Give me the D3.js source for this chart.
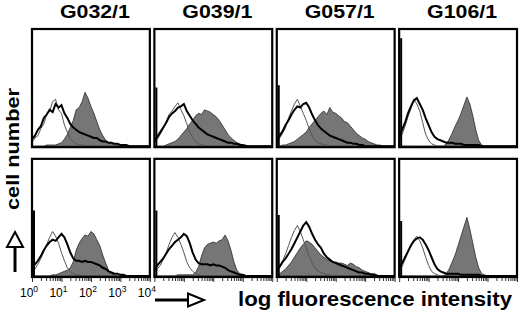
<!DOCTYPE html>
<html><head><meta charset="utf-8">
<script src="https://cdn.jsdelivr.net/npm/d3@7"></script>
<style>
body{margin:0;background:#fff}
svg{display:block}
text{font-family:"Liberation Sans",Arial,Helvetica,sans-serif;font-weight:bold;fill:#000}
</style>
</head><body>
<svg id="chart" width="520" height="312"></svg>
<script>
// ---- data ----
const antibodies = ["G032/1", "G039/1", "G057/1", "G106/1"];
const decades = [0, 1, 2, 3, 4];
const decadeLabels = ["0", "1", "2", "3", "4"];
// histogram bins: log10 fluorescence, 0.1 decade apart (41 channels)
const binLog = [0,0.1,0.2,0.3,0.4,0.5,0.6,0.7,0.8,0.9,1.0,1.1,1.2,1.3,1.4,1.5,1.6,1.7,1.8,1.9,2.0,
                2.1,2.2,2.3,2.4,2.5,2.6,2.7,2.8,2.9,3.0,3.1,3.2,3.3,3.4,3.5,3.6,3.7,3.8,3.9,4.0];
// values: % of panel height
const ctrlTop = [
  [3,7,9,15,19,27,30,38,40,31,28,18,12,6,4,2,1,1,1,0,1,0,0,0,0,0,0,0,0,0,0,0,0,0,0,0,0,0,0,0,0],
  [3,6,10,15,21,27,30,34,37,31,26,19,12,7,4,2,1,1,0,0,0,0,0,0,0,0,0,0,0,0,0,0,0,0,0,0,0,0,0,0,0],
  [3,7,11,16,24,30,36,40,34,28,22,15,9,5,3,2,1,1,0,0,0,0,0,0,0,0,0,0,0,0,0,0,0,0,0,0,0,0,0,0,0],
  [5,10,17,25,32,40,36,30,20,10,5,2,1,0,0,0,0,0,0,0,0,0,0,0,0,0,0,0,0,0,0,0,0,0,0,0,0,0,0,0,0]
];
const stainTop = [
  [6,9,14,17,24,27,31,29,36,33,35,28,24,19,16,14,12,11,10,9,8,7,7,5,4,4,3,3,2,2,1,1,1,0,0,0,0,0,0,0,0],
  [5,8,12,16,20,25,28,30,33,34,36,30,26,22,19,16,14,12,10,9,8,7,6,5,4,3,3,2,2,1,1,0,0,0,0,0,0,0,0,0,0],
  [5,9,13,18,22,27,31,34,33,36,37,33,27,22,18,15,13,11,9,8,7,6,5,4,3,3,2,2,1,1,0,0,0,0,0,0,0,0,0,0,0],
  [8,14,20,28,34,39,41,36,31,24,18,12,8,6,5,4,3,3,3,2,2,2,1,1,1,1,1,1,0,0,0,0,0,0,0,0,0,0,0,0,0]
];
const filledTop = [
  [0,0,0,0,0,1,1,1,1,2,3,6,10,16,22,31,33,38,46,41,34,28,21,14,9,5,3,2,1,1,0,0,0,0,0,0,0,0,0,0,0],
  [0,0,0,0,1,2,3,4,6,9,12,15,19,22,26,28,27,31,30,29,27,25,22,18,14,10,7,5,3,2,1,1,0,0,0,0,0,0,0,0,0],
  [0,0,1,1,2,3,4,6,8,10,12,16,19,22,25,28,30,27,33,29,28,26,24,21,20,17,14,11,9,7,6,4,3,2,1,1,0,0,0,0,0],
  [0,0,0,0,0,0,0,0,0,0,0,0,0,0,0,0,2,6,11,17,22,28,35,42,36,26,14,5,1,0,0,0,0,0,0,0,0,0,0,0,0]
];
const ctrlBottom = [
  [3,6,10,15,21,27,33,38,34,28,20,13,7,4,2,1,1,0,0,0,0,0,0,0,0,0,0,0,0,0,0,0,0,0,0,0,0,0,0,0,0],
  [3,6,9,14,20,27,33,37,33,27,20,12,7,4,2,1,0,0,0,0,0,0,0,0,0,0,0,0,0,0,0,0,0,0,0,0,0,0,0,0,0],
  [4,8,13,19,26,33,39,43,38,31,24,17,11,7,4,3,2,1,1,0,0,0,0,0,0,0,0,0,0,0,0,0,0,0,0,0,0,0,0,0,0],
  [4,8,14,20,26,31,34,30,24,16,9,4,2,1,0,0,0,0,0,0,0,0,0,0,0,0,0,0,0,0,0,0,0,0,0,0,0,0,0,0,0]
];
const stainBottom = [
  [6,10,13,17,22,26,29,31,30,33,36,33,27,20,15,13,13,12,13,12,12,11,10,9,7,6,4,3,2,2,1,1,0,0,0,0,0,0,0,0,0],
  [5,9,12,15,19,23,26,29,31,33,36,34,28,20,14,11,10,10,10,9,10,9,9,8,7,5,4,3,2,1,1,0,0,0,0,0,0,0,0,0,0],
  [5,8,12,15,19,23,28,33,38,43,46,42,36,31,27,24,19,16,14,12,11,10,9,8,7,6,5,4,3,3,2,2,1,1,0,0,0,0,0,0,0],
  [7,11,16,21,26,30,32,33,31,27,22,16,10,6,4,3,2,2,2,2,2,1,1,1,1,1,1,1,0,0,0,0,0,0,0,0,0,0,0,0,0]
];
const filledBottom = [
  [0,0,0,0,0,0,0,1,1,2,3,4,5,7,12,22,28,32,35,34,38,36,31,26,18,11,5,2,1,0,0,0,0,0,0,0,0,0,0,0,0],
  [0,0,0,0,0,0,0,0,1,1,1,1,1,1,3,8,17,24,27,28,29,28,30,31,35,30,22,12,5,2,1,0,0,0,0,0,0,0,0,0,0],
  [1,2,4,6,9,12,16,20,24,27,30,29,27,24,21,18,16,14,13,12,12,11,11,10,9,11,10,8,7,5,4,3,2,2,1,0,0,0,0,0,0],
  [0,0,0,0,0,0,0,0,0,0,0,0,0,0,0,0,2,6,12,18,26,34,42,50,40,28,16,7,2,1,0,0,0,0,0,0,0,0,0,0,0]
];
// first-channel spike height (% of panel)
const spikeTop = [0, 50, 52, 92];
const spikeBottom = [56, 56, 52, 47];

// ---- layout ----
const svg = d3.select("#chart");
const colBand = d3.scaleBand().domain(d3.range(4)).range([32, 517]).paddingInner(0.037);
const rowBand = d3.scaleBand().domain(d3.range(2)).range([29, 277]).paddingInner(0.09);
const rowsData = [
  {ctrl: ctrlTop, stain: stainTop, filled: filledTop, spike: spikeTop},
  {ctrl: ctrlBottom, stain: stainBottom, filled: filledBottom, spike: spikeBottom}
];

const defs = svg.append("defs");

rowsData.forEach((rd, r) => {
  antibodies.forEach((ab, c) => {
    const x0 = colBand(c), w = colBand.bandwidth();
    const y0 = rowBand(r), h = rowBand.bandwidth();
    const x = d3.scaleLinear().domain([0, 4]).range([x0, x0 + w]);
    const y = d3.scaleLinear().domain([0, 100]).range([y0 + h - 1, y0]);
    const id = `clip${r}${c}`;
    defs.append("clipPath").attr("id", id).append("rect")
      .attr("x", x0).attr("y", y0).attr("width", w).attr("height", h);
    const g = svg.append("g").attr("clip-path", `url(#${id})`);

    const area = d3.area().x((d, i) => x(binLog[i])).y0(y(0)).y1(d => y(d)).curve(d3.curveLinear);
    const line = d3.line().x((d, i) => x(binLog[i])).y(d => y(d)).curve(d3.curveLinear);

    g.append("path").datum(rd.filled[c]).attr("d", area)
      .attr("fill", "#767676").attr("stroke", "#2a2a2a").attr("stroke-width", 0.8);
    g.append("path").datum(rd.ctrl[c]).attr("d", line)
      .attr("fill", "none").attr("stroke", "#555").attr("stroke-width", 1);
    g.append("path").datum(rd.stain[c]).attr("d", line)
      .attr("fill", "none").attr("stroke", "#000").attr("stroke-width", 2);
    // first channel spike
    g.append("line").attr("x1", x(0) + 2).attr("x2", x(0) + 2)
      .attr("y1", y(0)).attr("y2", y(rd.spike[c]))
      .attr("stroke", "#000").attr("stroke-width", 2);

    // frame
    svg.append("rect").attr("x", x0).attr("y", y0).attr("width", w).attr("height", h)
      .attr("fill", "none").attr("stroke", "#000").attr("stroke-width", 2.2);

    if (r === 0) {
      svg.append("text").attr("x", x0 + w / 2 + 4).attr("y", 18)
        .attr("text-anchor", "middle").attr("font-size", 18)
        .attr("textLength", 70).attr("lengthAdjust", "spacingAndGlyphs")
        .text(ab);
    }
    if (r === 1) {
      // log axis ticks
      const minor = [];
      decades.slice(0, 4).forEach(d => { for (let k = 2; k < 10; k++) minor.push(d + Math.log10(k)); });
      const axMinor = d3.axisBottom(x).tickValues(minor).tickSize(3).tickFormat("");
      const axMajor = d3.axisBottom(x).tickValues(decades).tickSize(4).tickFormat("");
      [axMinor, axMajor].forEach(ax => {
        const ga = svg.append("g").attr("transform", `translate(0,${y0 + h + 1})`).call(ax);
        ga.select(".domain").remove();
        ga.selectAll("line").attr("stroke", "#333").attr("stroke-width", 1);
      });
      if (c === 0) {
        decades.forEach(d => {
          const t = svg.append("text").attr("x", x(d) - 3).attr("y", 297)
            .attr("text-anchor", "middle").attr("font-size", 12).style("font-weight", "normal");
          t.append("tspan").text("10");
          t.append("tspan").attr("dy", -5).attr("font-size", 8.5).text(decadeLabels[d]);
        });
      }
    }
  });
});

// y label + arrow
svg.append("text").attr("transform", "translate(19,149) rotate(-90)")
  .attr("text-anchor", "middle").attr("font-size", 19)
  .attr("textLength", 122).attr("lengthAdjust", "spacingAndGlyphs")
  .text("cell number");
svg.append("line").attr("x1", 15).attr("x2", 15).attr("y1", 247).attr("y2", 272)
  .attr("stroke", "#000").attr("stroke-width", 3);
svg.append("path").attr("d", "M15,232 L23,247 L7,247 Z")
  .attr("fill", "#fff").attr("stroke", "#000").attr("stroke-width", 2);

// x label + arrow
svg.append("line").attr("x1", 155).attr("x2", 188).attr("y1", 300).attr("y2", 300)
  .attr("stroke", "#000").attr("stroke-width", 3);
svg.append("path").attr("d", "M188,293.5 L204,300 L188,306.5 Z")
  .attr("fill", "#fff").attr("stroke", "#000").attr("stroke-width", 2);
svg.append("text").attr("x", 238).attr("y", 306).attr("font-size", 20)
  .attr("textLength", 274).attr("lengthAdjust", "spacingAndGlyphs")
  .text("log fluorescence intensity");
</script>
</body></html>
